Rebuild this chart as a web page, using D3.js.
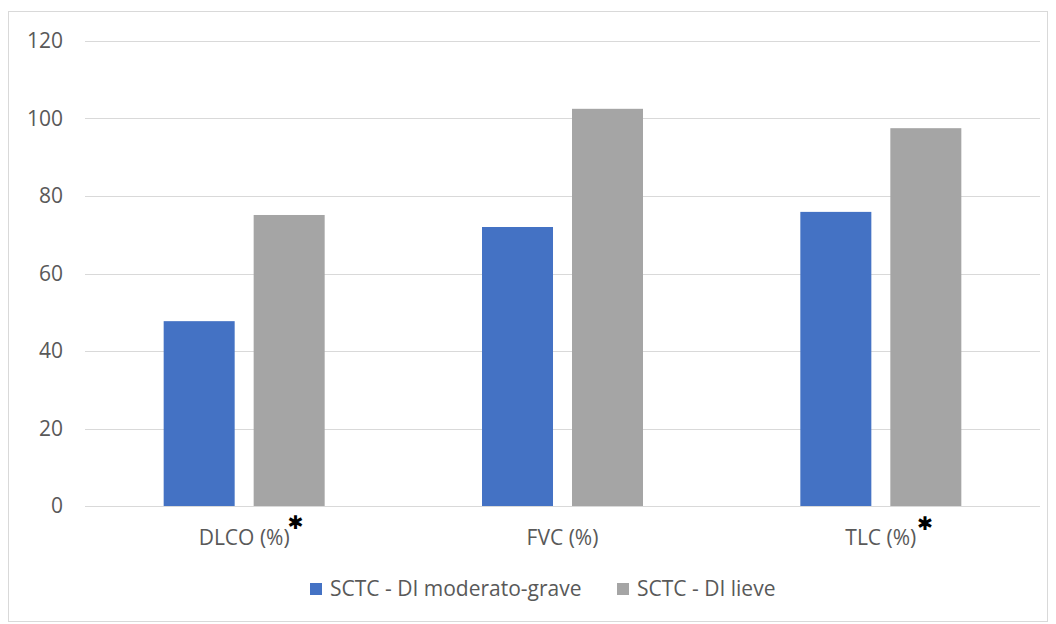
<!DOCTYPE html>
<html>
<head>
<meta charset="utf-8">
<script src="https://cdn.jsdelivr.net/npm/d3@7"></script>
<style>
  html, body { margin: 0; padding: 0; background: #fff; }
  svg { display: block; font-family: "Open Sans", "Noto Sans", sans-serif; }
</style>
</head>
<body>
<svg id="chart" width="1056" height="624"></svg>
<script>
// Lung function parameters by disease severity
const categories = ["DLCO (%)", "FVC (%)", "TLC (%)"];
const significant = [true, false, true];
const seriesNames = ["SCTC - DI moderato-grave", "SCTC - DI lieve"];
const moderatoGrave = [47.7, 72.0, 75.9];
const lieve = [75.1, 102.5, 97.5];
const yTicks = [0, 20, 40, 60, 80, 100, 120];
const colors = ["#4472c4", "#a5a5a5"];

const svg = d3.select("#chart");
const W = 1056, H = 624;
const margin = { left: 85, right: 16, top: 41, bottom: 118 };
const fontSize = 21;
const groupWidth = 161;

// outer chart frame
svg.append("rect")
  .attr("x", 8.5).attr("y", 11.5)
  .attr("width", W - 17).attr("height", H - 14)
  .attr("fill", "#fff").attr("stroke", "#d9d9d9");

const x0 = d3.scaleBand()
  .domain(categories)
  .range([margin.left, W - margin.right]);

const x1 = d3.scaleBand()
  .domain(seriesNames)
  .range([0, groupWidth])
  .paddingInner(0.211);

const y = d3.scaleLinear()
  .domain([0, 120])
  .range([H - margin.bottom, margin.top]);

// horizontal gridlines
svg.append("g")
  .selectAll("line")
  .data(yTicks)
  .join("line")
  .attr("x1", margin.left).attr("x2", W - margin.right)
  .attr("y1", d => Math.round(y(d)) + 0.5)
  .attr("y2", d => Math.round(y(d)) + 0.5)
  .attr("stroke", "#d9d9d9").attr("stroke-width", 1);

// y axis labels
const yAxis = d3.axisLeft(y).tickValues(yTicks).tickSize(0).tickPadding(0);
const yg = svg.append("g")
  .attr("transform", `translate(${margin.left - 22},0)`)
  .call(yAxis);
yg.select(".domain").remove();
yg.selectAll("text")
  .attr("fill", "#595959")
  .attr("font-size", fontSize)
  .attr("font-family", "'Open Sans', sans-serif");

// bars
const series = [moderatoGrave, lieve];
const groups = svg.append("g")
  .selectAll("g")
  .data(categories)
  .join("g")
  .attr("transform", c => `translate(${x0(c) + (x0.bandwidth() - groupWidth) / 2},0)`);

groups.selectAll("rect")
  .data((c, i) => seriesNames.map((s, k) => ({ s, v: series[k][i], k })))
  .join("rect")
  .attr("x", d => x1(d.s))
  .attr("width", x1.bandwidth())
  .attr("y", d => y(d.v))
  .attr("height", d => y(0) - y(d.v))
  .attr("fill", d => colors[d.k]);

// category labels with significance marks (asterisk spacing after each label)
const starGap = [-2, 0, 1];
const xg = svg.append("g");
categories.forEach((c, i) => {
  const cx = x0(c) + x0.bandwidth() / 2;
  const t = xg.append("text")
    .attr("x", cx).attr("y", 545)
    .attr("text-anchor", "middle")
    .attr("fill", "#595959")
    .attr("font-size", fontSize)
    .text(c);
  if (significant[i]) {
    const w = t.node().getComputedTextLength();
    xg.append("text")
      .attr("x", cx + w / 2 + starGap[i]).attr("y", 530 - (i === 0 ? 1 : 0))
      .attr("fill", "#000")
      .attr("font-size", 19)
      .attr("font-family", "'DejaVu Sans', sans-serif")
      .text("\u2731");
  }
});

// legend
const legendItems = [
  { name: seriesNames[0], color: colors[0], x: 310 },
  { name: seriesNames[1], color: colors[1], x: 617 }
];
const lg = svg.append("g");
legendItems.forEach(d => {
  lg.append("rect")
    .attr("x", d.x).attr("y", 583)
    .attr("width", 12).attr("height", 12)
    .attr("fill", d.color);
  lg.append("text")
    .attr("x", d.x + 20).attr("y", 596)
    .attr("fill", "#595959")
    .attr("font-size", fontSize)
    .text(d.name);
});
</script>
</body>
</html>
